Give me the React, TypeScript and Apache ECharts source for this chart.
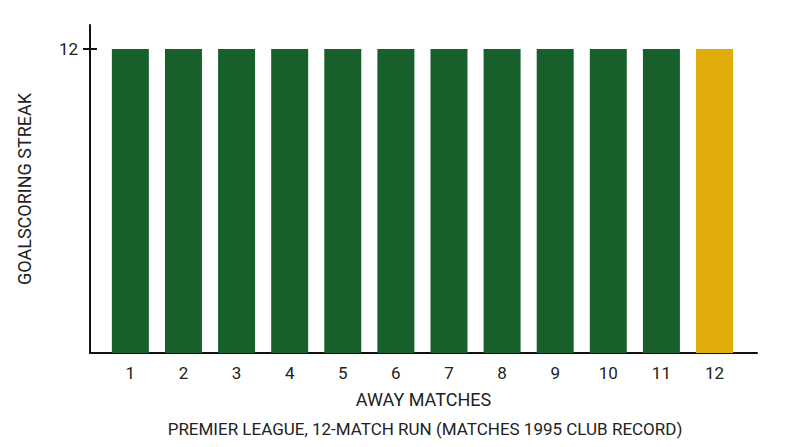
import * as echarts from "echarts";
import { useEffect, useRef } from "react";

const matches = [1, 2, 3, 4, 5, 6, 7, 8, 9, 10, 11, 12];
const streak = [12, 12, 12, 12, 12, 12, 12, 12, 12, 12, 12, 12];
const yTicks = [12];

const GREEN = "#18602B";
const GOLD = "#E2AD0B";

export default function App() {
  const chartRef = useRef<HTMLDivElement>(null);

  useEffect(() => {
    document.body.style.margin = "0";
    if (!chartRef.current) return;
    const chart = echarts.init(chartRef.current, undefined, { renderer: "svg" });

    const font = "Roboto, 'Noto Sans', sans-serif";
    const last = matches.length - 1;

    const yBase = {
      type: "value",
      min: 0,
      max: 12.95,
      position: "left",
      splitLine: { show: false },
    };

    chart.setOption({
      animation: false,
      textStyle: { fontFamily: font },
      title: {
        text: "PREMIER LEAGUE, 12-MATCH RUN (MATCHES 1995 CLUB RECORD)",
        left: 420,
        textAlign: "center",
        top: 415,
        textStyle: { fontSize: 17, fontWeight: "normal", color: "#222", fontFamily: font },
      },
      grid: { left: 90, right: 43, top: 25, bottom: 94 },
      xAxis: {
        type: "value",
        min: 0.24,
        max: 12.8,
        name: "AWAY MATCHES",
        nameLocation: "middle",
        nameGap: 37,
        nameTextStyle: { fontSize: 18, color: "#222", fontFamily: font },
        axisLine: { show: true, lineStyle: { color: "#111", width: 2 } },
        axisTick: { show: false },
        splitLine: { show: false },
        axisLabel: {
          customValues: matches,
          fontSize: 17,
          color: "#222",
          margin: 11,
          fontFamily: font,
        },
      },
      yAxis: [
        {
          ...yBase,
          name: "GOALSCORING STREAK",
          nameLocation: "middle",
          nameGap: 57,
          nameTextStyle: { fontSize: 18, color: "#222", fontFamily: font },
          axisLine: { show: true, lineStyle: { color: "#111", width: 2 } },
          axisTick: { show: true, customValues: yTicks, length: 7, lineStyle: { color: "#111", width: 2 } },
          axisLabel: { customValues: yTicks, fontSize: 17, color: "#222", margin: 12, fontFamily: font },
        },
        {
          ...yBase,
          axisLine: { show: false },
          axisTick: { show: true, inside: true, customValues: yTicks, length: 7, lineStyle: { color: "#111", width: 2 } },
          axisLabel: { show: false },
        },
      ],
      series: [
        {
          type: "bar",
          barWidth: 37,
          data: matches.map((m, i) => ({
            value: [m, streak[i]],
            itemStyle: { color: i === last ? GOLD : GREEN },
          })),
        },
      ],
    });

    return () => chart.dispose();
  }, []);

  return <div ref={chartRef} style={{ width: 800, height: 447 }} />;
}
